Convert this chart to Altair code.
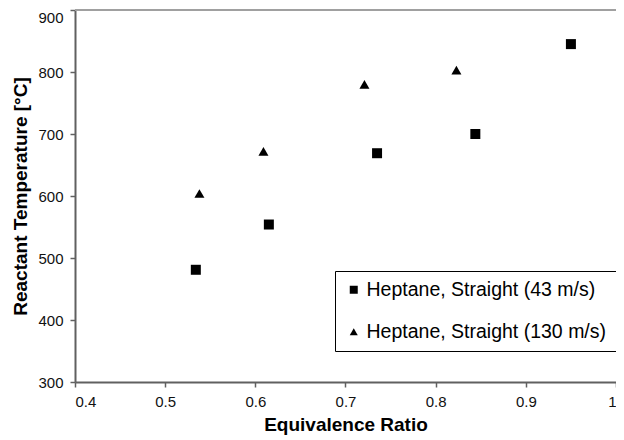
import altair as alt
import pandas as pd

series_a = "Heptane, Straight (43 m/s)"
series_b = "Heptane, Straight (130 m/s)"

phi_a = [0.534, 0.615, 0.735, 0.844, 0.950]
temp_a = [481, 554, 669, 700, 845]

phi_b = [0.538, 0.609, 0.721, 0.823]
temp_b = [604, 672, 780, 803]

x_ticks = [0.4, 0.5, 0.6, 0.7, 0.8, 0.9, 1.0]
y_ticks = [300, 400, 500, 600, 700, 800, 900]

df = pd.DataFrame(
    {
        "phi": phi_a + phi_b,
        "temp": temp_a + temp_b,
        "series": [series_a] * len(phi_a) + [series_b] * len(phi_b),
    }
)

FONT = "Arial, Liberation Sans, sans-serif"

points = (
    alt.Chart(df)
    .mark_point(filled=True, opacity=1, size=100, color="black")
    .encode(
        x=alt.X(
            "phi:Q",
            scale=alt.Scale(domain=[0.4, 1.0], nice=False, zero=False),
            axis=alt.Axis(
                values=x_ticks,
                title="Equivalence Ratio",
                labelExpr="datum.value == 1 ? '1' : format(datum.value, '.1f')",
                grid=False,
                domainColor="#606060",
                domainWidth=2,
                tickColor="#606060",
                tickWidth=1.5,
                tickSize=5,
                labelPadding=7,
                labelFontSize=15,
                labelColor="#111",
                labelFont=FONT,
                titleFont=FONT,
                titleFontSize=19,
                titleFontWeight="bold",
                titleColor="black",
                titlePadding=6,
            ),
        ),
        y=alt.Y(
            "temp:Q",
            scale=alt.Scale(domain=[300, 900], nice=False, zero=False),
            axis=alt.Axis(
                values=y_ticks,
                title="Reactant Temperature [°C]",
                grid=False,
                domainColor="#606060",
                domainWidth=2,
                tickColor="#606060",
                tickWidth=1.5,
                tickSize=5,
                labelPadding=7,
                labelFontSize=15,
                labelColor="#111",
                labelFont=FONT,
                labelBaseline=alt.condition("datum.value == 900", alt.value("top"), alt.value("middle")),
                titleFont=FONT,
                titleFontSize=19,
                titleFontWeight="bold",
                titleColor="black",
                titlePadding=7,
            ),
        ),
        shape=alt.Shape(
            "series:N",
            scale=alt.Scale(domain=[series_a, series_b], range=["square", "triangle-up"]),
            legend=alt.Legend(
                title=None,
                orient="none",
                legendX=260,
                legendY=261,
                strokeColor="black",
                fillColor="white",
                padding=9,
                rowPadding=21,
                symbolSize=64,
                symbolFillColor="black",
                symbolStrokeColor="black",
                symbolStrokeWidth=0,
                labelFont=FONT,
                labelFontSize=19.5,
                labelColor="black",
                labelOffset=3,
                labelLimit=400,
            ),
        ),
    )
)

top_line = (
    alt.Chart(pd.DataFrame({"temp": [900]}))
    .mark_rule(color="#a0a0a0", strokeWidth=2)
    .encode(y="temp:Q")
)

chart = (
    alt.layer(top_line, points)
    .properties(
        width=541,
        height=372,
        padding={"left": 67, "top": 2, "right": 0, "bottom": 54},
        autosize=alt.AutoSizeParams(type="none"),
    )
    .configure_view(stroke=None)
    .configure(background="white")
)

chart.save("out.html", embed_options={"renderer": "svg", "actions": False})
